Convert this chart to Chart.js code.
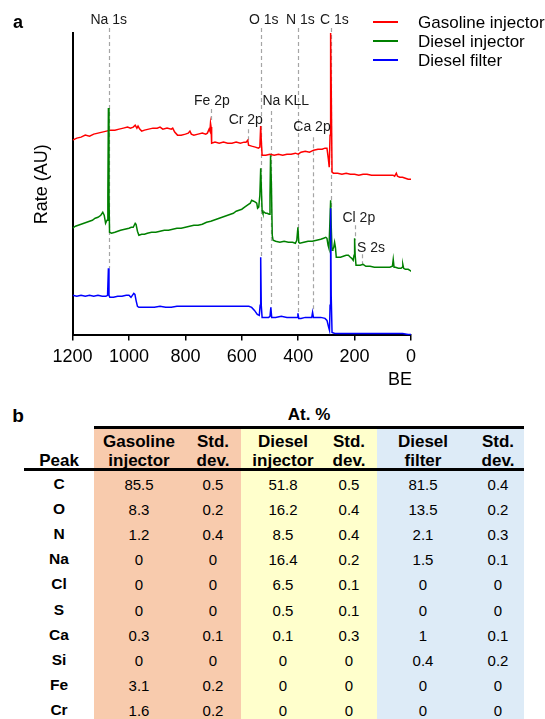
<!DOCTYPE html>
<html>
<head>
<meta charset="utf-8">
<script src="https://cdn.jsdelivr.net/npm/chart.js@4.4.1/dist/chart.umd.min.js"></script>
<style>
  body { margin: 0; background: #fff; font-family: "Liberation Sans", Arial, sans-serif; }
  #wrap { position: relative; width: 545px; height: 719px; overflow: hidden; }
  #spectrum { position: absolute; left: 0; top: 0; }
  .cell { position: absolute; transform: translate(-50%, -50%); white-space: nowrap; color: #000; line-height: 1; }
  .band { position: absolute; }
  .rule { position: absolute; background: #000; height: 3px; }
</style>
</head>
<body>
<div id="wrap">
  <canvas id="spectrum" width="545" height="400"></canvas>
  <div id="table"></div>
</div>
<script>
// XPS survey spectra, binding energy (eV) vs rate (arbitrary units)
const gasolineBE = [1200, 1185, 1170, 1155, 1140, 1125, 1110, 1095, 1080, 1065, 1050, 1035, 1020, 1005, 995, 985, 978, 972, 968, 962, 955, 945, 930, 915, 900, 890, 880, 865, 850, 845, 838, 828, 815, 800, 790, 784, 779, 770, 755, 740, 728, 722, 716, 713, 711, 709, 707, 695, 680, 665, 650, 635, 620, 605, 592, 585, 579, 576, 565, 552, 541, 536, 533, 531, 528, 515, 500, 485, 470, 455, 440, 425, 410, 400, 390, 375, 360, 345, 330, 315, 305, 298, 293, 290, 287, 285, 283, 280, 275, 260, 245, 230, 215, 200, 185, 170, 156, 140, 125, 110, 95, 80, 64, 58, 52, 48, 40, 30, 20, 10, 0];
const gasolineRate = [195, 197, 198, 200, 199, 201, 202, 203, 204, 205, 205, 206, 207, 208, 207, 208, 210, 207, 209, 206, 204, 205, 206, 207, 207, 208, 206, 207, 206, 207, 203, 200, 200, 201, 202, 204, 201, 200, 201, 202, 201, 202, 206, 204, 212, 208, 192, 193, 192, 193, 192, 192, 193, 192, 193, 193, 195, 190, 189, 188, 187, 188, 209, 195, 180, 180, 181, 180, 181, 180, 181, 181, 182, 181, 183, 184, 183, 185, 186, 186, 187, 187, 176, 168, 200, 302, 250, 163, 162, 162, 161, 162, 161, 161, 160, 161, 161, 160, 160, 160, 160, 160, 160, 159, 162, 159, 158, 158, 157, 156, 156];

const dieselInjBE = [1200, 1190, 1180, 1170, 1160, 1150, 1140, 1130, 1120, 1110, 1100, 1093, 1088, 1083, 1078, 1075, 1073, 1071, 1069, 1062, 1050, 1040, 1030, 1015, 1000, 992, 985, 978, 975, 970, 965, 955, 945, 935, 920, 905, 890, 875, 860, 845, 830, 815, 800, 785, 770, 755, 740, 725, 710, 700, 690, 680, 670, 660, 650, 640, 630, 620, 610, 600, 590, 580, 570, 565, 558, 552, 547, 544, 540, 536, 533, 531, 528, 525, 520, 515, 510, 503, 500, 498, 495, 492, 489, 480, 465, 450, 435, 420, 410, 405, 401, 398, 394, 380, 365, 350, 335, 320, 310, 302, 298, 294, 291, 288, 285, 283, 280, 277, 274, 271, 268, 265, 260, 250, 240, 230, 222, 215, 210, 205, 202, 200, 198, 195, 190, 180, 170, 160, 145, 130, 110, 90, 75, 66, 63, 60, 55, 45, 35, 31, 29, 26, 20, 10, 4, 0];
const dieselInjRate = [107, 109, 110, 111, 112, 113, 114, 115, 117, 118, 120, 123, 120, 112, 115, 140, 227, 140, 103, 102, 103, 104, 105, 106, 107, 108, 108, 112, 111, 104, 100, 101, 101, 102, 103, 103, 104, 105, 105, 106, 107, 107, 108, 109, 110, 110, 111, 113, 114, 115, 116, 117, 118, 119, 120, 121, 122, 124, 125, 126, 128, 130, 132, 135, 134, 133, 132, 127, 128, 140, 167, 150, 125, 122, 123, 122, 122, 121, 140, 180, 150, 100, 95, 94, 93, 94, 93, 93, 92, 95, 108, 93, 92, 93, 94, 94, 95, 96, 97, 98, 97, 90, 87, 110, 135, 110, 85, 86, 88, 93, 88, 78, 78, 78, 79, 80, 80, 78, 77, 75, 80, 97, 80, 70, 70, 70, 71, 69, 69, 68, 68, 68, 68, 69, 76, 68, 68, 67, 67, 68, 71, 67, 66, 66, 65, 64];

const dieselFilterBE = [1200, 1185, 1170, 1155, 1140, 1125, 1110, 1095, 1082, 1076, 1073, 1071, 1068, 1055, 1040, 1025, 1010, 1000, 993, 988, 983, 979, 975, 970, 965, 950, 930, 910, 890, 870, 850, 830, 810, 790, 770, 750, 730, 710, 690, 670, 650, 630, 610, 590, 575, 565, 555, 545, 538, 535, 533, 531, 528, 515, 505, 500, 497, 494, 480, 460, 440, 425, 410, 404, 401, 398, 390, 375, 360, 352, 349, 346, 335, 320, 305, 298, 292, 289, 287, 285, 283, 280, 270, 250, 230, 210, 190, 170, 150, 130, 110, 90, 70, 50, 30, 10, 0];
const dieselFilterRate = [40, 39, 40, 39, 40, 39, 40, 39, 39, 40, 67, 40, 38, 38, 39, 39, 40, 40, 38, 40, 42, 41, 35, 29, 28, 28, 28, 28, 29, 28, 28, 29, 29, 29, 29, 29, 29, 29, 29, 29, 29, 29, 29, 29, 29, 28, 25, 21, 20, 30, 78, 30, 18, 18, 18, 19, 28, 18, 18, 19, 18, 18, 18, 18, 22, 17, 17, 18, 18, 18, 23, 18, 18, 18, 17, 15, 8, 5, 30, 127, 40, 3, 2, 2, 2, 2, 2, 2, 2, 2, 2, 2, 2, 2, 2, 1, 1];

const seriesNames = ["Gasoline injector", "Diesel injector", "Diesel filter"];
const seriesColors = ["#ff0000", "#008000", "#0000ff"];

// peak markers: line position, label centre (BE) and heights (rate units)
const peakNames = ["Na 1s", "O 1s", "N 1s", "C 1s", "Fe 2p", "Cr 2p", "Na KLL", "Ca 2p", "Cl 2p", "S 2s"];
const peakBE = [1072, 532, 400, 284, 710, 577, 497, 348, 199, 172];
const peakLabelBE = [1072, 522, 392, 272, 706, 586, 444, 351, 185, 142];
const peakLabelRate = [314.5, 314.5, 314.5, 314.5, 234, 215, 234, 207.5, 117, 87.5];
const peakLineTop = [307, 307, 307, 307, 226, 206, 224, 198, 110, 81];
const peakLineBottom = [67, 78, 22, 127, 212, 194, 28, 23, 95, 70];

// table b: atomic percent
const tablePeaks = ["C", "O", "N", "Na", "Cl", "S", "Ca", "Si", "Fe", "Cr"];
const gasolineAt = [85.5, 8.3, 1.2, 0, 0, 0, 0.3, 0, 3.1, 1.6];
const gasolineStd = [0.5, 0.2, 0.4, 0, 0, 0, 0.1, 0, 0.2, 0.2];
const dieselInjAt = [51.8, 16.2, 8.5, 16.4, 6.5, 0.5, 0.1, 0, 0, 0];
const dieselInjStd = [0.5, 0.4, 0.4, 0.2, 0.1, 0.1, 0.3, 0, 0, 0];
const dieselFilterAt = [81.5, 13.5, 2.1, 1.5, 0, 0, 1, 0.4, 0, 0];
const dieselFilterStd = [0.4, 0.2, 0.3, 0.1, 0, 0, 0.1, 0.2, 0, 0];

const FONT = '"Liberation Sans", Arial, sans-serif';

function toPoints(be, rate) {
  return be.map((x, i) => ({ x, y: rate[i] }));
}

const peakMarkers = {
  id: "peakMarkers",
  beforeDatasetsDraw(chart) {
    const { ctx, scales: { x, y } } = chart;
    ctx.save();
    ctx.strokeStyle = "#a5a5a5";
    ctx.lineWidth = 1.2;
    ctx.setLineDash([4, 3]);
    peakBE.forEach((be, i) => {
      const px = Math.round(x.getPixelForValue(be)) + 0.5;
      ctx.beginPath();
      ctx.moveTo(px, y.getPixelForValue(peakLineTop[i]));
      ctx.lineTo(px, y.getPixelForValue(peakLineBottom[i]));
      ctx.stroke();
    });
    ctx.restore();
  },
  afterDraw(chart) {
    const { ctx, scales: { x, y } } = chart;
    ctx.save();
    ctx.fillStyle = "#1a1a1a";
    ctx.font = "14px " + FONT;
    ctx.textAlign = "center";
    ctx.textBaseline = "middle";
    peakNames.forEach((name, i) => {
      ctx.fillText(name, x.getPixelForValue(peakLabelBE[i]), y.getPixelForValue(peakLabelRate[i]));
    });
    ctx.restore();
  },
};

const sideLegend = {
  id: "sideLegend",
  afterDraw(chart) {
    const { ctx, chartArea } = chart;
    ctx.save();
    ctx.font = "17px " + FONT;
    ctx.textBaseline = "middle";
    ctx.lineWidth = 2;
    seriesNames.forEach((name, i) => {
      const yy = 22 + i * 19;
      ctx.strokeStyle = seriesColors[i];
      ctx.beginPath();
      ctx.moveTo(373, yy);
      ctx.lineTo(398, yy);
      ctx.stroke();
      ctx.fillStyle = "#000";
      ctx.fillText(name, 418, yy + 1);
    });
    ctx.font = "bold 18px " + FONT;
    ctx.fillText("a", 13, 23);
    // x axis title sits under the right end of the axis
    ctx.font = "18px " + FONT;
    ctx.textAlign = "right";
    ctx.fillText("BE", chartArea.right + 1, 380);
    ctx.restore();
  },
};

const rateSets = [gasolineRate, dieselInjRate, dieselFilterRate];
const beSets = [gasolineBE, dieselInjBE, dieselFilterBE];

new Chart(document.getElementById("spectrum").getContext("2d"), {
  type: "line",
  data: {
    datasets: seriesNames.map((name, i) => ({
      label: name,
      data: toPoints(beSets[i], rateSets[i]),
      borderColor: seriesColors[i],
      backgroundColor: seriesColors[i],
      borderWidth: 1.5,
      pointRadius: 0,
      tension: 0,
      fill: false,
      order: 2 - i,
    })),
  },
  options: {
    responsive: false,
    animation: false,
    layout: { padding: { top: 33, right: 134, bottom: 26, left: 31 } },
    plugins: {
      legend: { display: false },
      tooltip: { enabled: false },
    },
    scales: {
      x: {
        type: "linear",
        reverse: true,
        min: 0,
        max: 1200,
        ticks: {
          stepSize: 200,
          color: "#000",
          padding: 6,
          maxRotation: 0,
          font: { family: FONT, size: 18 },
          callback: (value) => String(value),
        },
        grid: {
          drawOnChartArea: false,
          drawTicks: true,
          tickLength: 5,
          color: "#000",
          lineWidth: 1.5,
        },
        border: { display: true, color: "#000", width: 2 },
      },
      y: {
        min: 0,
        max: 302,
        ticks: { display: false },
        grid: { display: false, drawTicks: false },
        border: { display: true, color: "#000", width: 2 },
        title: {
          display: true,
          text: "Rate (AU)",
          color: "#000",
          font: { family: FONT, size: 18 },
          padding: { top: 0, bottom: 20 },
        },
      },
    },
  },
  plugins: [peakMarkers, sideLegend],
});

// table b
const table = document.getElementById("table");
const colX = [59, 139, 213, 283, 349, 423, 498];
const rowY0 = 484;
const rowStep = 25.1;

function addCell(text, x, y, css) {
  const d = document.createElement("div");
  d.className = "cell";
  d.textContent = text;
  d.style.left = x + "px";
  d.style.top = y + "px";
  Object.assign(d.style, css);
  table.appendChild(d);
}

function addBox(cls, left, top, width, height, color) {
  const d = document.createElement("div");
  d.className = cls;
  d.style.left = left + "px";
  d.style.top = top + "px";
  d.style.width = width + "px";
  d.style.height = height + "px";
  if (color) d.style.background = color;
  table.appendChild(d);
}

addBox("band", 94, 427, 146.5, 292, "#f8cbad");
addBox("band", 240.5, 427, 136.5, 292, "#ffffcc");
addBox("band", 377, 427, 147, 292, "#ddebf7");
addBox("rule", 94, 426, 430, 3);
addBox("rule", 24, 468, 500, 3);

const headBold = { fontWeight: "bold", fontSize: "17px" };
addCell("b", 18, 415, { fontWeight: "bold", fontSize: "19px" });
addCell("At. %", 309, 414, headBold);
addCell("Peak", 59, 460, headBold);

const headers = [["Gasoline", "injector"], ["Std.", "dev."], ["Diesel", "injector"], ["Std.", "dev."], ["Diesel", "filter"], ["Std.", "dev."]];
headers.forEach((lines, c) => {
  addCell(lines[0], colX[c + 1], 441, headBold);
  addCell(lines[1], colX[c + 1], 460, headBold);
});

const columns = [gasolineAt, gasolineStd, dieselInjAt, dieselInjStd, dieselFilterAt, dieselFilterStd];
tablePeaks.forEach((peak, r) => {
  const y = rowY0 + r * rowStep;
  addCell(peak, colX[0], y, { fontWeight: "bold", fontSize: "15.5px" });
  columns.forEach((col, c) => {
    addCell(String(col[r]), colX[c + 1], y, { fontSize: "15px" });
  });
});
</script>
</body>
</html>
